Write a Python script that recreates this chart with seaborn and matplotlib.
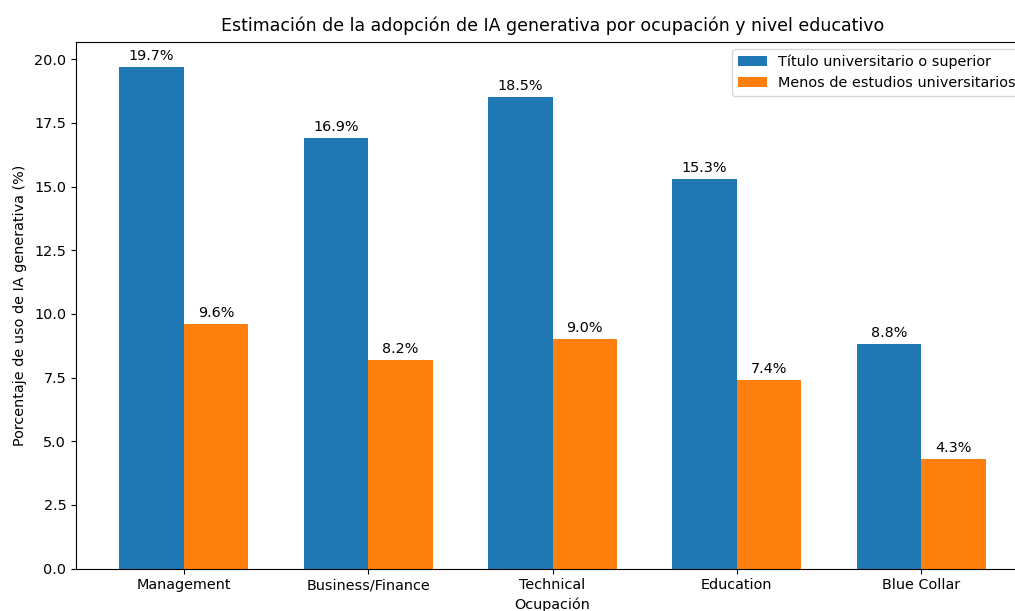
import matplotlib
matplotlib.use("Agg")
import matplotlib.pyplot as plt
import seaborn as sns
import pandas as pd

occupations = ["Management", "Business/Finance", "Technical", "Education", "Blue Collar"]
college = [19.7, 16.9, 18.5, 15.3, 8.8]
no_college = [9.6, 8.2, 9.0, 7.4, 4.3]
series_names = ["Título universitario o superior", "Menos de estudios universitarios"]

df = pd.DataFrame({
    "occ": occupations * 2,
    "val": college + no_college,
    "grp": [series_names[0]] * len(occupations) + [series_names[1]] * len(occupations),
})

fs = 10.4
plt.rcParams["font.size"] = fs

fig = plt.figure(figsize=(10.15, 6.11), dpi=100)
ax = fig.add_axes([76 / 1015, (611 - 568.6) / 611, (1029 - 76) / 1015, (568.6 - 41.7) / 611])

sns.barplot(data=df, x="occ", y="val", hue="grp", hue_order=series_names,
            palette=["#1f77b4", "#ff7f0e"], saturation=1, width=0.7, ax=ax)

for c in ax.containers:
    ax.bar_label(c, fmt="%.1f%%", padding=3, fontsize=fs)

ax.set_xlim(-0.585, 4.585)
ax.set_ylim(0, 20.685)
ax.tick_params(labelsize=fs)
ax.set_xlabel("Ocupación", fontsize=fs)
ax.set_ylabel("Porcentaje de uso de IA generativa (%)", fontsize=fs, labelpad=5)
ax.set_title("Estimación de la adopción de IA generativa por ocupación y nivel educativo",
             fontsize=12.5, pad=8)
ax.spines["right"].set_visible(False)
leg = ax.legend(title=None, loc="upper right", fontsize=fs)
leg.set_clip_on(True)

fig.savefig("out.png", dpi=100)
